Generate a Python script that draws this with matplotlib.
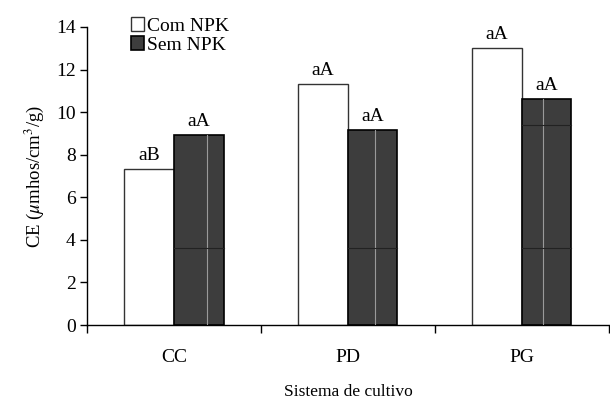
import matplotlib

matplotlib.use("Agg")
import matplotlib.pyplot as plt
import numpy as np

plt.rcParams["font.family"] = ["Liberation Serif", "DejaVu Serif"]
plt.rcParams["mathtext.fontset"] = "stix"

sistemas = ["CC", "PD", "PG"]
com_npk = [7.33, 11.32, 13.01]
sem_npk = [8.92, 9.16, 10.61]
letras_com = ["aB", "aA", "aA"]
letras_sem = ["aA", "aA", "aA"]

fig = plt.figure(figsize=(6.10, 4.01), dpi=100)
ax = fig.add_axes([0.1426, 0.1895, 0.8554, 0.7432])

x = np.arange(len(sistemas)) + 0.5
w = 0.285
ax.bar(x - w / 2, com_npk, w, color="white", edgecolor="#333333",
       linewidth=1.0, label="Com NPK", zorder=2)
ax.bar(x + w / 2, sem_npk, w, color="#3d3d3d", edgecolor="black",
       linewidth=1.2, label="Sem NPK", zorder=2)

# linhas finas da textura dentro das barras escuras
offs = [0.19, 0.155, 0.12]
for xi, v, o in zip(x, sem_npk, offs):
    ax.plot([xi + o, xi + o], [0, v], color="#9a9a9a", lw=0.8, zorder=3)
    ax.plot([xi, xi + w], [3.6, 3.6], color="#222222", lw=0.8, zorder=3)
ax.plot([x[2], x[2] + w], [9.4, 9.4], color="#222222", lw=0.8, zorder=3)

for xi, v, t in zip(x, com_npk, letras_com):
    ax.text(xi - w / 2, v + 0.22, t, ha="center", va="bottom", fontsize=14)
for xi, v, t in zip(x, sem_npk, letras_sem):
    ax.text(xi + w / 2, v + 0.22, t, ha="center", va="bottom", fontsize=14)

ax.set_xlim(0, 3)
ax.set_ylim(0, 14)
ax.set_yticks(range(0, 15, 2))
ax.set_xticks([0, 1, 2, 3])
ax.set_xticklabels([])
ax.set_xticks(x, minor=True)
ax.set_xticklabels(sistemas, minor=True)
ax.tick_params(axis="x", which="minor", length=0, pad=17, labelsize=14)
ax.tick_params(axis="x", which="major", length=6, width=1, direction="out")
ax.tick_params(axis="y", length=5, width=1, labelsize=14, pad=3)
for s in ["top", "right"]:
    ax.spines[s].set_visible(False)
for s in ["left", "bottom"]:
    ax.spines[s].set_linewidth(1.0)

ax.set_ylabel(r"CE ($\mu$mhos/cm$^3$/g)", fontsize=13.5, labelpad=7)
ax.set_xlabel("Sistema de cultivo", fontsize=12.5, labelpad=13)

ax.legend(loc="upper left", bbox_to_anchor=(0.065, 1.065), frameon=False,
          fontsize=14, handlelength=0.7, handleheight=0.7,
          handletextpad=0.15, labelspacing=0.05, borderpad=0)

fig.savefig("out.png", dpi=100)
